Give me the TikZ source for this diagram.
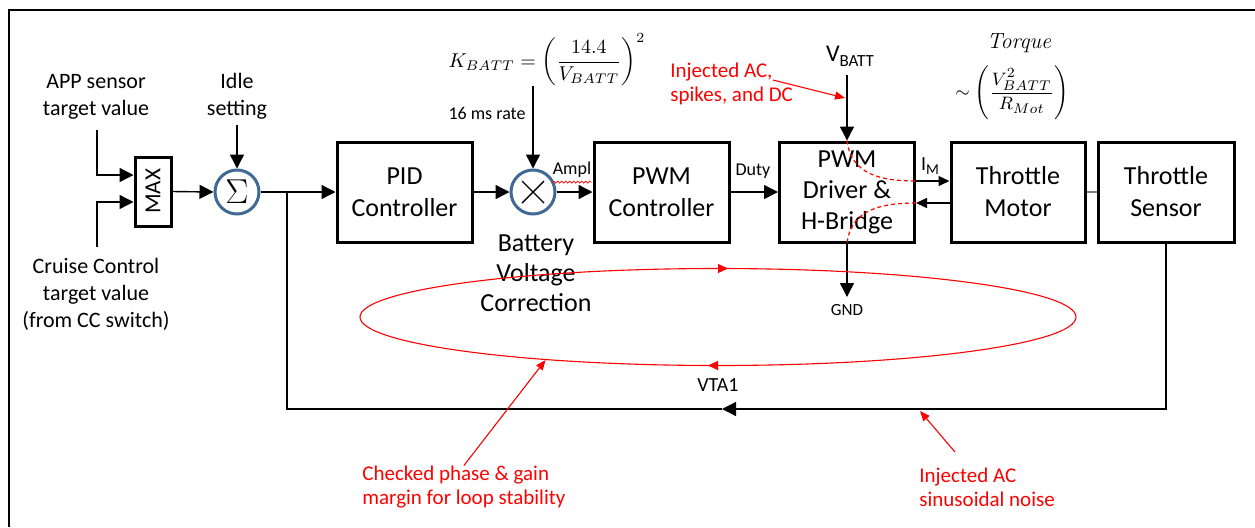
\documentclass[tikz,border=0pt]{standalone}
\usepackage{fontspec}
\usepackage{amsmath}
\newfontfamily\calib{Carlito}
\usetikzlibrary{arrows.meta,calc,shapes.geometric,decorations.markings,decorations.pathmorphing}
\definecolor{opblue}{RGB}{65,105,150}
\begin{document}
\begin{tikzpicture}[x=0.5pt,y=-0.5pt,
  blk/.style={draw, line width=1.5pt, inner sep=0pt, align=center, minimum width=67.5pt, minimum height=50pt, font=\calib\fontsize{13}{16}\selectfont},
  op/.style={circle, draw=opblue, line width=1.5pt, fill=white, minimum size=22pt, inner sep=0pt},
  lbl/.style={align=center, inner sep=0pt, font=\calib\fontsize{11}{13.5}\selectfont},
  small/.style={inner sep=0pt, font=\calib\fontsize{9}{11}\selectfont},
  wire/.style={line width=0.7pt},
  arr/.style={line width=0.7pt, -{Triangle[length=7pt,width=7pt]}},
  sarr/.style={line width=0.7pt, -{Triangle[length=5.5pt,width=5pt]}},
  note/.style={red, align=left, inner sep=0pt, font=\calib\fontsize{10.5}{12}\selectfont},
  redarr/.style={red, line width=0.55pt, -{Triangle[length=5pt,width=4pt]}},
  reddash/.style={red, line width=0.6pt, dash pattern=on 2pt off 1.5pt}]
\useasboundingbox (0,0) rectangle (1255,527);
% frame
\draw[line width=1pt] (9,527) -- (9,9.5) -- (1255,9.5);

% blocks
\node[blk, minimum width=18pt, minimum height=34.5pt] (max) at (153,191.5) {};
\node[rotate=90, inner sep=0pt, font=\calib\fontsize{11.5}{13}\selectfont] (maxt) at (max.center) {MAX};
\node[op] (sum) at (237,192) {\fontsize{17}{17}\selectfont$\Sigma$};
\node[blk] (pid) at (404.5,192) {PID\\Controller};
\node[op] (mul) at (533,192) {};
\draw[line width=0.7pt] ($(mul.center)+(-11,-11)$) -- ($(mul.center)+(11,11)$);
\draw[line width=0.7pt] ($(mul.center)+(-11,11)$) -- ($(mul.center)+(11,-11)$);
\node[blk] (pwmc) at (661.5,192) {PWM\\Controller};
\node[blk, font=\calib\fontsize{13}{15.5}\selectfont] (drv) at (847,192) {PWM\\Driver \&\\H-Bridge};
\node[blk, minimum width=67pt] (mot) at (1018,192) {Throttle\\Motor};
\node[blk, minimum width=68pt] (sen) at (1166,192) {Throttle\\Sensor};

% text labels
\node[lbl] (app) at (96,96.5) {APP sensor\\target value};
\node[lbl] (cc) at (96,294) {Cruise Control\\target value\\(from CC switch)};
\node[lbl] (idle) at (237,96.5) {Idle\\setting};
\node[align=center, inner sep=0pt, font=\calib\fontsize{13}{15}\selectfont] (bvc) at (536,273) {Battery\\Voltage\\Correction};
\node[inner sep=0pt, font=\fontsize{10}{12}\selectfont] (kf) at (547,60) {$K_{BATT}=\left(\dfrac{14.4}{V_{BATT}}\right)^{2}$};
\node[small] (rate) at (487,113) {16 ms rate};
\node[small] (ampl) at (572,170) {Ampl};
\draw[red, line width=0.35pt, decorate, decoration={snake, amplitude=0.5pt, segment length=2pt}] ($(ampl.south west)+(0,4)$) -- ($(ampl.south east)+(0,4)$);
\node[small] (duty) at (753,171) {Duty};
\node[inner sep=0pt, font=\calib] (vb) at (850,56) {\fontsize{12}{13}\selectfont V\raisebox{-2.5pt}{\fontsize{8.5}{9}\selectfont BATT}};
\node[small, font=\calib\fontsize{8.5}{10}\selectfont] (gnd) at (847,310) {GND};
\node[inner sep=0pt, font=\calib] (im) at (930,166) {\fontsize{10}{11}\selectfont I\raisebox{-2pt}{\fontsize{7.5}{8}\selectfont M}};
\node[inner sep=0pt, font=\fontsize{11}{13}\selectfont] (tq) at (1019,43) {\textit{Torque}};
\node[inner sep=0pt, font=\fontsize{9.5}{11}\selectfont] (tf) at (1012,93) {$\sim\left(\dfrac{V_{BATT}^2}{R_{Mot}}\right)$};
\node[inner sep=0pt, font=\calib\fontsize{10}{12}\selectfont] (vta) at (718,385) {VTA1};

% coordinates
\coordinate (appin) at (97,130);
\coordinate (ccin) at (97,247);
\coordinate (idlein) at (237,125);
\coordinate (kin) at (533,86);
\coordinate (vin) at (847,75);
\coordinate (gndp) at (847,297);
\coordinate (jn) at (287,192);
\coordinate (fbm) at (722,409);

% connectors
\draw[arr] (appin) |- ($(max.west)+(0,-16.5)$);
\draw[arr] (ccin) |- ($(max.west)+(0,10.5)$);
\draw[arr] (max.east) -- (sum.west);
\draw[arr] (idlein) -- (sum.north);
\draw[arr] (sum.east) -- (pid.west);
\draw[arr] (pid.east) -- (mul.west);
\draw[arr] (kin) -- (mul.north);
\draw[arr] (mul.east) -- (pwmc.west);
\draw[arr] (pwmc.east) -- (drv.west);
\draw[arr] (vin) -- (drv.north);
\draw[arr] (drv.south) -- (gndp);
\draw[sarr] ($(drv.east)+(0,-11)$) -- ($(mot.west)+(0,-11)$);
\draw[sarr] ($(mot.west)+(0,11)$) -- ($(drv.east)+(0,11)$);
\draw[line width=0.7pt, gray] (mot.east) -- (sen.west);
\draw[arr] (sen.south) |- (fbm);
\draw[wire] (fbm) -| (jn);

% red annotations
\draw[reddash] (drv.north) .. controls (851,174) and (880,181) .. ($(drv.east)+(0,-11)$);
\draw[reddash] ($(drv.east)+(0,11)$) .. controls (880,203) and (851,210) .. (drv.south);
\node[ellipse, draw=red, red, line width=0.55pt, minimum width=358pt, minimum height=48.5pt, inner sep=0pt,
  postaction={decorate},
  decoration={markings,
    mark=at position 0.25 with {\arrow{Triangle[reversed,length=5pt,width=4.5pt]}},
    mark=at position 0.75 with {\arrow{Triangle[reversed,length=5pt,width=4.5pt]}}}] (loop) at (718,317) {};
\node[note, anchor=west] (inj1) at (670,83.5) {Injected AC,\\spikes, and DC};
\node[note, anchor=west] (chk) at (362,487) {Checked phase \& gain\\margin for loop stability};
\node[note, anchor=west] (inj2) at (919,487) {Injected AC\\sinusoidal noise};
\coordinate (inj1s) at (773,80);
\coordinate (inj1e) at (845,98);
\coordinate (inj2s) at (955,452);
\coordinate (inj2e) at (920,411);
\draw[redarr] (inj1s) -- (inj1e);
\draw[redarr] (chk.north) -- (loop.194);
\draw[redarr] (inj2s) -- (inj2e);
\end{tikzpicture}
\end{document}
